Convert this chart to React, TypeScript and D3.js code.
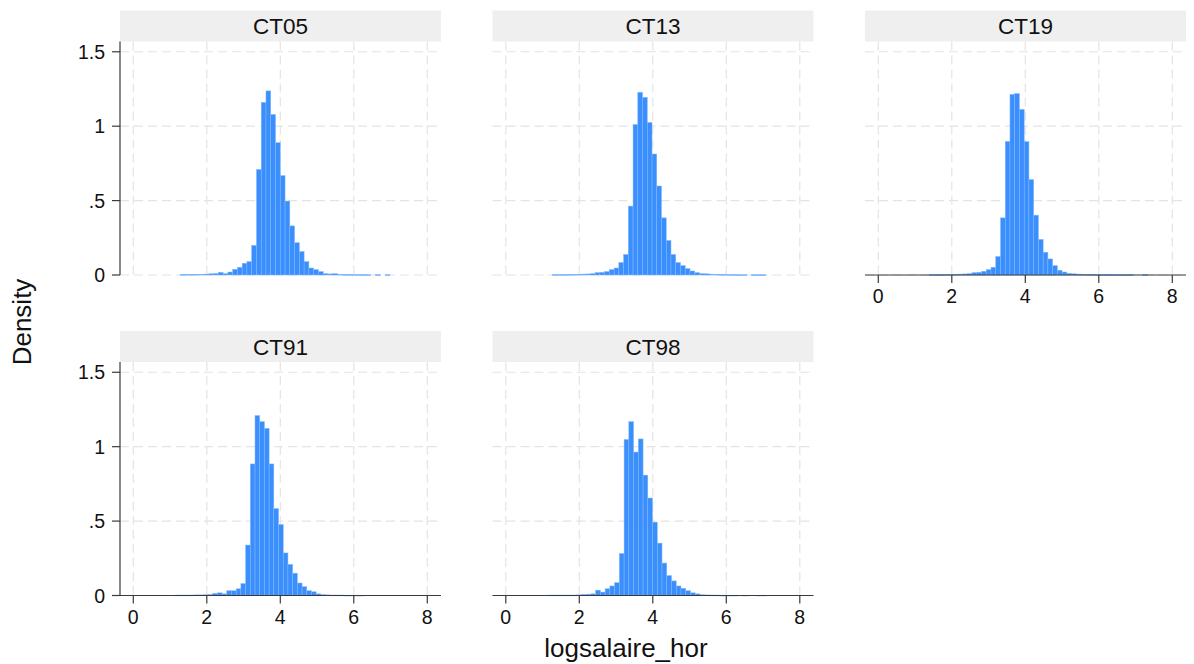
import React from "react";
import * as d3 from "d3";

// ---- data ----
const panelNames = ["CT05", "CT13", "CT19", "CT91", "CT98"];
const binStarts = [1.276, 1.27, 1.39, 1.136, 1.155];
const binWidths = [0.1297, 0.129, 0.129, 0.128, 0.129];

const densCT05 = [0.004, 0.004, 0.004, 0.005, 0.005, 0.006, 0.008, 0.010, 0.018, 0.009, 0.020, 0.038, 0.052, 0.079, 0.090, 0.199, 0.709, 1.160, 1.237, 1.079, 0.889, 0.668, 0.497, 0.330, 0.217, 0.158, 0.090, 0.047, 0.036, 0.023, 0.009, 0.007, 0.009, 0.005, 0.004, 0.004, 0.003, 0.003, 0.003, 0.002, 0, 0.002, 0, 0.002, 0];
const densCT13 = [0.003, 0.003, 0.003, 0.004, 0.004, 0.005, 0.006, 0.007, 0.009, 0.016, 0.018, 0.023, 0.036, 0.047, 0.084, 0.138, 0.463, 1.011, 1.228, 1.194, 1.025, 0.813, 0.598, 0.384, 0.232, 0.138, 0.084, 0.063, 0.043, 0.027, 0.016, 0.009, 0.008, 0.006, 0.005, 0.004, 0.004, 0.003, 0.003, 0.002, 0.002, 0, 0.002, 0.002, 0.002];
const densCT19 = [0.003, 0.003, 0.003, 0.004, 0.004, 0.005, 0.006, 0.007, 0.009, 0.016, 0.018, 0.025, 0.036, 0.052, 0.124, 0.384, 0.898, 1.214, 1.219, 1.113, 0.896, 0.641, 0.402, 0.239, 0.153, 0.108, 0.063, 0.032, 0.020, 0.011, 0.008, 0.006, 0.005, 0.004, 0.004, 0.003, 0.003, 0.003, 0.002, 0.002, 0.002, 0.002, 0.002, 0, 0, 0.002, 0];
const densCT91 = [0.003, 0.003, 0.003, 0.003, 0.004, 0.004, 0.005, 0.007, 0.014, 0.018, 0.011, 0.032, 0.032, 0.045, 0.080, 0.339, 0.884, 1.209, 1.168, 1.123, 0.884, 0.584, 0.477, 0.286, 0.209, 0.150, 0.084, 0.059, 0.032, 0.025, 0.011, 0.006, 0.004, 0.003, 0.003, 0.003, 0.002, 0.002, 0.002, 0.002];
const densCT98 = [0.003, 0.003, 0.003, 0.003, 0.003, 0.003, 0.004, 0.007, 0.009, 0.011, 0.036, 0.023, 0.045, 0.064, 0.086, 0.282, 1.048, 1.168, 0.964, 1.052, 0.809, 0.655, 0.493, 0.352, 0.218, 0.134, 0.098, 0.064, 0.048, 0.032, 0.018, 0.011, 0.005, 0.004, 0.003, 0.003, 0.002, 0.002, 0.002, 0.002, 0, 0.002, 0, 0, 0.002, 0.002];
const densities = [densCT05, densCT13, densCT19, densCT91, densCT98];

const xTicks = [0, 2, 4, 6, 8];
const yTicks = [0, 0.5, 1, 1.5];
const yTickLabels = ["0", ".5", "1", "1.5"];
const xTitle = "logsalaire_hor";
const yTitle = "Density";

// ---- layout ----
const W = 1194;
const H = 664;
const colLeft = [120, 492.5, 865];
const rowTop = [10.5, 331];
const headerH = 31;
const plotW = 321;
const plotH = 233.5;
const FONT = "'Liberation Sans', Arial, Helvetica, sans-serif";
const barFill = "#3b8ffd";
const barStroke = "#7fb8ff";
const gridColor = "#e4e4e4";
const axisColor = "#3a3a3a";

const x = d3.scaleLinear().domain([-0.362, 8.373]).range([0, plotW]);
const y = d3.scaleLinear().domain([0, 1.569]).range([plotH, 0]);

function Panel({ idx }: { idx: number }) {
  const row = idx < 3 ? 0 : 1;
  const col = idx < 3 ? idx : idx - 3;
  const left = colLeft[col];
  const top = rowTop[row];
  const showY = col === 0;
  const showX = idx >= 2;
  const vals = densities[idx];
  const start = binStarts[idx];
  const bw = binWidths[idx];
  const bins = vals.map((v, i) => ({ x0: start + i * bw, x1: start + (i + 1) * bw, v }));
  return (
    <g transform={`translate(${left},${top})`}>
      <rect x={0} y={0} width={plotW} height={headerH} fill="#efefef" />
      <text x={plotW / 2} y={headerH / 2 + 8} textAnchor="middle" fontFamily={FONT} fontSize={22.5} fill="#111">
        {panelNames[idx]}
      </text>
      <g transform={`translate(0,${headerH})`}>
        {yTicks.map((t) => (
          <line key={"gy" + t} x1={0} x2={plotW} y1={y(t)} y2={y(t)} stroke={gridColor} strokeWidth={1.2} strokeDasharray="9,5" />
        ))}
        {xTicks.map((t) => (
          <line key={"gx" + t} x1={x(t)} x2={x(t)} y1={0} y2={plotH} stroke={gridColor} strokeWidth={1.2} strokeDasharray="9,5" />
        ))}
        {bins.filter((b) => b.v > 0).map((b, i) => (
          <rect
            key={"b" + i}
            x={x(b.x0)}
            y={y(b.v)}
            width={x(b.x1) - x(b.x0)}
            height={Math.max(0.8, y(0) - y(b.v))}
            fill={barFill}
            stroke={barStroke}
            strokeWidth={0.5}
          />
        ))}
        {showY && (
          <g>
            <line x1={0} x2={0} y1={0} y2={plotH} stroke={axisColor} strokeWidth={1.2} />
            {yTicks.map((t, i) => (
              <g key={"ty" + t}>
                <line x1={-8} x2={0} y1={y(t)} y2={y(t)} stroke={axisColor} strokeWidth={1.2} />
                <text x={-15} y={y(t) + 7} textAnchor="end" fontFamily={FONT} fontSize={19.5} fill="#111">
                  {yTickLabels[i]}
                </text>
              </g>
            ))}
          </g>
        )}
        {showX && (
          <g>
            <line x1={0} x2={plotW} y1={plotH} y2={plotH} stroke={axisColor} strokeWidth={1.2} />
            {xTicks.map((t) => (
              <g key={"tx" + t}>
                <line x1={x(t)} x2={x(t)} y1={plotH} y2={plotH + 8} stroke={axisColor} strokeWidth={1.2} />
                <text x={x(t)} y={plotH + 28} textAnchor="middle" fontFamily={FONT} fontSize={19.5} fill="#111">
                  {t}
                </text>
              </g>
            ))}
          </g>
        )}
      </g>
    </g>
  );
}

export default function App() {
  return (
    <svg width={W} height={H} style={{ position: "absolute", left: 0, top: 0, background: "#fff" }}>
      <rect x={0} y={0} width={W} height={H} fill="#fff" />
      {panelNames.map((_, i) => (
        <Panel key={i} idx={i} />
      ))}
      <text
        transform={`translate(31,322) rotate(-90)`}
        textAnchor="middle"
        fontFamily={FONT}
        fontSize={26}
        fill="#111"
      >
        {yTitle}
      </text>
      <text x={626} y={657} textAnchor="middle" fontFamily={FONT} fontSize={26} fill="#111">
        {xTitle}
      </text>
    </svg>
  );
}
